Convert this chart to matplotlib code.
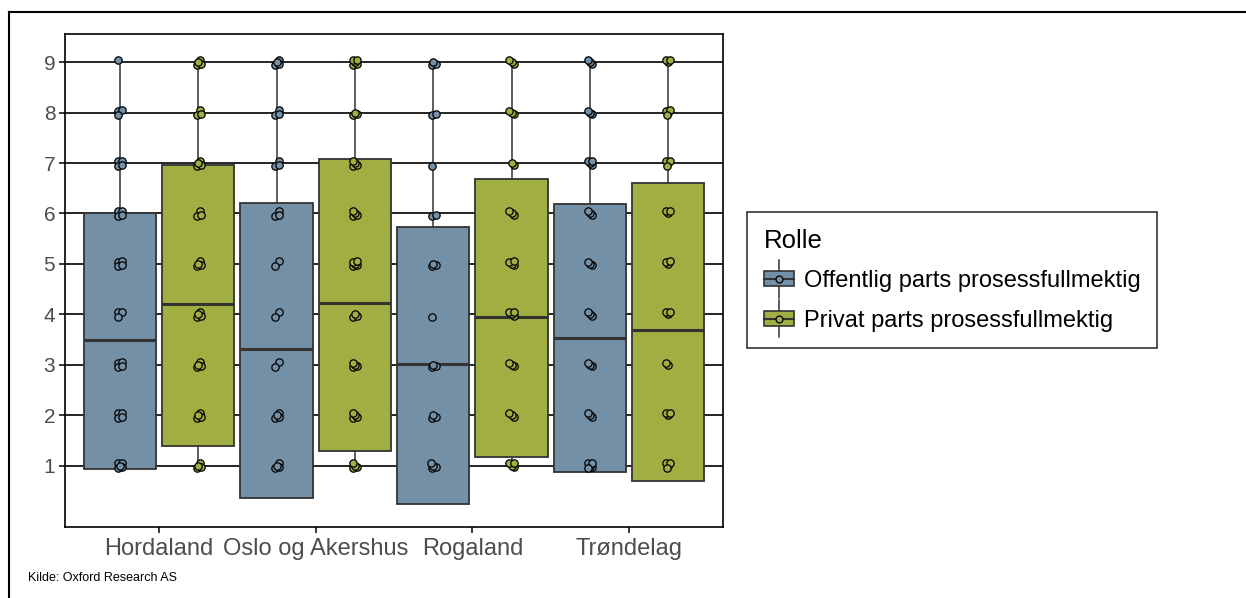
import numpy as np
import matplotlib
matplotlib.use("Agg")
import matplotlib.pyplot as plt
from matplotlib.patches import Rectangle, Patch
from matplotlib.lines import Line2D
from matplotlib.legend_handler import HandlerBase

plt.rcParams['font.family'] = ['Liberation Sans', 'DejaVu Sans']

# Data
regions = ['Hordaland', 'Oslo og Akershus', 'Rogaland', 'Trøndelag']
roles = ['Offentlig parts prosessfullmektig', 'Privat parts prosessfullmektig']
scores = [1, 2, 3, 4, 5, 6, 7, 8, 9]

# box limits (low, middle line, high) per region
box_low_off = [0.94, 0.35, 0.24, 0.87]
box_mid_off = [3.48, 3.31, 3.01, 3.53]
box_high_off = [6.01, 6.21, 5.74, 6.18]
box_low_priv = [1.38, 1.28, 1.16, 0.70]
box_mid_priv = [4.20, 4.22, 3.94, 3.68]
box_high_priv = [6.96, 7.09, 6.68, 6.61]
whisker_lo = [1, 1, 1, 1]
whisker_hi = [9, 9, 9, 9]

# number of answers per score 1..9 (estimated from the point clusters)
counts_off = [
    [5, 4, 4, 3, 4, 4, 4, 3, 1],
    [4, 4, 2, 2, 2, 3, 3, 3, 4],
    [4, 3, 3, 1, 3, 2, 1, 2, 3],
    [5, 3, 3, 3, 3, 3, 4, 3, 3],
]
counts_priv = [
    [4, 4, 4, 4, 4, 3, 4, 3, 4],
    [4, 4, 4, 3, 5, 4, 4, 3, 5],
    [4, 3, 3, 4, 4, 3, 2, 3, 3],
    [4, 3, 2, 3, 3, 3, 4, 4, 3],
]

col_off = '#7490A6'
col_priv = '#A1AE41'
edge = '#333333'

# small fixed cluster layout so overlapping answers stay visible
cluster_dx = [-0.013, 0.014, -0.01, 0.015, 0.0]
cluster_dy = [0.04, 0.05, -0.05, -0.03, 0.0]

fig = plt.figure(figsize=(12.46, 5.98), dpi=100)
ax = fig.add_axes([65 / 1246, 1 - 527 / 598, 658 / 1246, 493 / 598])

width = 0.46
offset = 0.25
x = np.arange(1, len(regions) + 1)

groups = [
    (-offset, box_low_off, box_mid_off, box_high_off, counts_off, col_off),
    (offset, box_low_priv, box_mid_priv, box_high_priv, counts_priv, col_priv),
]

for gi, (dx, lo, mid, hi, counts, col) in enumerate(groups):
    for i in range(len(regions)):
        xc = x[i] + dx
        # whiskers
        if hi[i] < whisker_hi[i]:
            ax.plot([xc, xc], [hi[i], whisker_hi[i]], color=edge, lw=1.1, zorder=2)
        if lo[i] > whisker_lo[i]:
            ax.plot([xc, xc], [whisker_lo[i], lo[i]], color=edge, lw=1.1, zorder=2)
        ax.add_patch(Rectangle((xc - width / 2, lo[i]), width, hi[i] - lo[i],
                               facecolor=col, edgecolor=edge, lw=1.3, zorder=3))
        ax.plot([xc - width / 2, xc + width / 2], [mid[i], mid[i]],
                color=edge, lw=2.2, zorder=4, solid_capstyle='butt')
        # points
        px, py = [], []
        for s, n in zip(scores, counts[i]):
            for k in range(n):
                j = (k + i + gi) % len(cluster_dx)
                px.append(xc + cluster_dx[j])
                py.append(s + cluster_dy[j])
        ax.scatter(px, py, s=28, facecolor=col, edgecolor='black',
                   linewidth=0.9, zorder=5)

ax.set_xlim(0.4, 4.6)
ax.set_ylim(-0.22, 9.56)
ax.set_yticks(scores)
ax.set_xticks(x)
ax.set_xticklabels(regions)
ax.yaxis.grid(True, color='black', lw=1.2)
ax.set_axisbelow(True)
for sp in ax.spines.values():
    sp.set_color('black')
    sp.set_linewidth(1.2)
ax.tick_params(axis='y', labelsize=15, colors='black', labelcolor='#4D4D4D',
               length=4, width=1.1, pad=3)
ax.tick_params(axis='x', labelsize=17, colors='black', labelcolor='#4D4D4D',
               length=4, width=1.1, pad=4)


class BoxKeyHandler(HandlerBase):
    def create_artists(self, legend, orig_handle, xdescent, ydescent,
                       width, height, fontsize, trans):
        x0, y0 = -xdescent, -ydescent
        col = orig_handle.get_facecolor()
        rect = Rectangle((x0, y0), width, height, facecolor=col,
                         edgecolor=edge, lw=1.2, transform=trans)
        xm = x0 + width / 2
        ym = y0 + height / 2
        w_top = Line2D([xm, xm], [y0 + height, y0 + height + 8], color=edge, lw=1.1, transform=trans)
        w_bot = Line2D([xm, xm], [y0 - 8, y0], color=edge, lw=1.1, transform=trans)
        med = Line2D([x0, x0 + width], [ym, ym], color=edge, lw=1.5, transform=trans)
        dot = Line2D([xm], [ym], marker='o', markersize=5, markerfacecolor=col,
                     markeredgecolor='black', markeredgewidth=0.9, linestyle='none',
                     transform=trans)
        return [w_top, w_bot, rect, med, dot]


handles = [Patch(facecolor=col_off), Patch(facecolor=col_priv)]
leg = fig.legend(handles, roles, handler_map={Patch: BoxKeyHandler()},
                 loc='upper left', bbox_to_anchor=(747 / 1246, 1 - 212 / 598),
                 fontsize=17, title='Rolle', title_fontsize=18.5,
                 alignment='left', frameon=True, fancybox=False,
                 handlelength=1.3, handleheight=0.6, handletextpad=0.4,
                 labelspacing=0.75, borderpad=0.7, borderaxespad=0)
leg.get_frame().set_edgecolor('black')
leg.get_frame().set_linewidth(1.2)

# outer frame (left and top edges)
fig.add_artist(Line2D([9 / 1246, 9 / 1246], [0, 1 - 12 / 598], color='black', lw=1.5))
fig.add_artist(Line2D([9 / 1246, 1], [1 - 12 / 598, 1 - 12 / 598], color='black', lw=1.5))

fig.text(28 / 1246, 1 - 578 / 598, 'Kilde: Oxford Research AS', fontsize=9,
         va='center', ha='left', color='black')

fig.savefig('out.png', dpi=100)
